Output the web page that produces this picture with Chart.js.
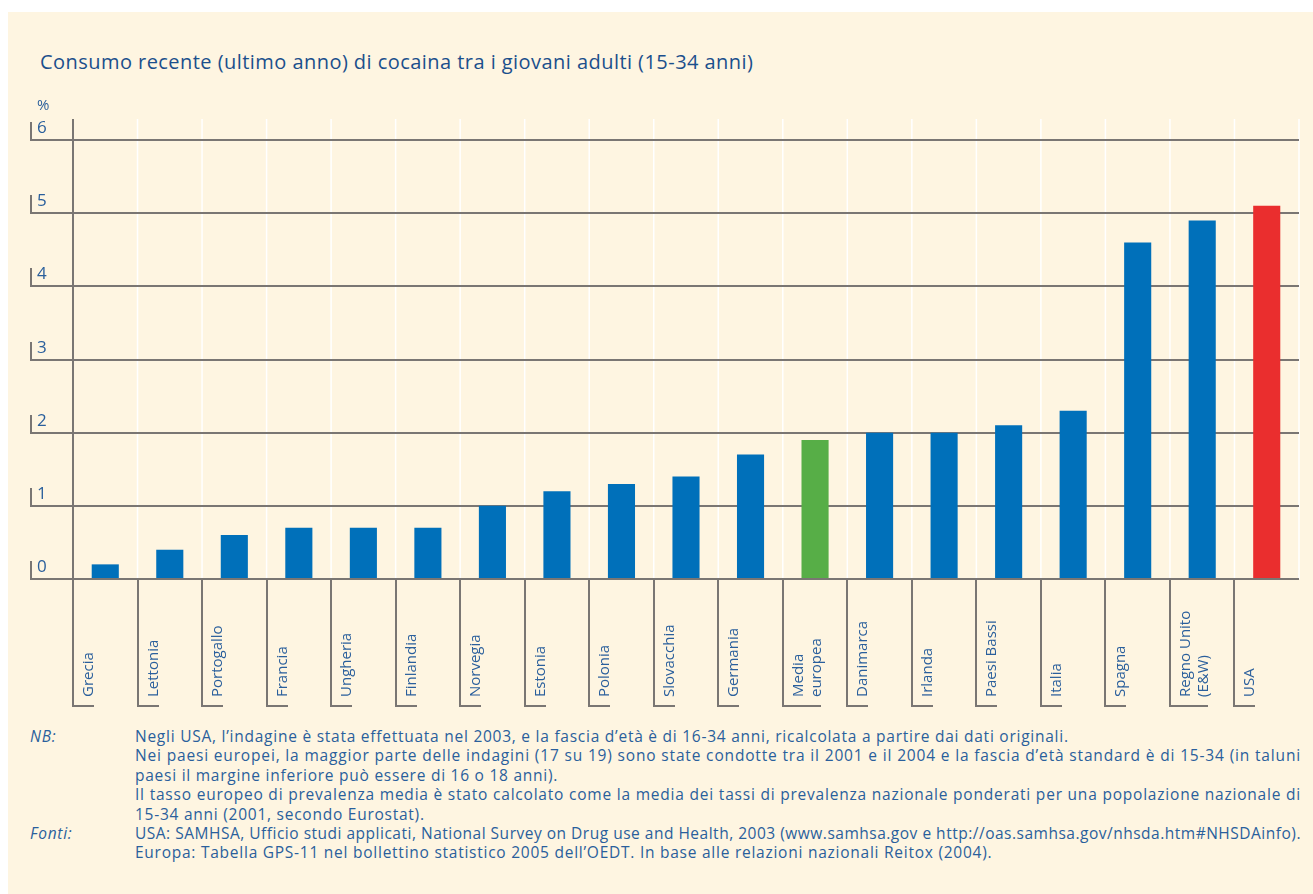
<!DOCTYPE html>
<html>
<head>
<meta charset="utf-8">
<script src="https://cdn.jsdelivr.net/npm/chart.js@4.4.1/dist/chart.umd.min.js"></script>
<style>
  body { margin: 0; background: #fff; width: 1313px; height: 894px; overflow: hidden; font-family: 'Open Sans', sans-serif; }
  .panel { position: absolute; left: 8px; top: 12px; width: 1305px; height: 882px; background: #fef5e1; }
  .title { position: absolute; left: 40px; top: 48px; font-size: 20px; letter-spacing: 0.45px; color: #1b4f8c; white-space: nowrap; }
  .wrap { position: absolute; left: 0; top: 0; width: 1313px; height: 720px; }
  .notes { position: absolute; left: 0; top: 727px; color: #2a5f9c; font-size: 15.5px; letter-spacing: 0.75px; line-height: 19.4px; }
  .row { position: relative; height: 19.4px; }
  .row .k { position: absolute; left: 30px; font-style: italic; }
  .row .t { position: absolute; left: 135px; white-space: nowrap; }
</style>
</head>
<body>
<div class="panel"></div>
<div class="title">Consumo recente (ultimo anno) di cocaina tra i giovani adulti (15-34 anni)</div>
<div class="wrap"><canvas id="c"></canvas></div>
<div class="notes">
  <div class="row"><span class="k">NB:</span><span class="t">Negli USA, l’indagine è stata effettuata nel 2003, e la fascia d’età è di 16-34 anni, ricalcolata a partire dai dati originali.</span></div>
  <div class="row"><span class="t j">Nei paesi europei, la maggior parte delle indagini (17 su 19) sono state condotte tra il 2001 e il 2004 e la fascia d’età standard è di 15-34 (in taluni</span></div>
  <div class="row"><span class="t">paesi il margine inferiore può essere di 16 o 18 anni).</span></div>
  <div class="row"><span class="t j">Il tasso europeo di prevalenza media è stato calcolato come la media dei tassi di prevalenza nazionale ponderati per una popolazione nazionale di</span></div>
  <div class="row"><span class="t">15-34 anni (2001, secondo Eurostat).</span></div>
  <div class="row"><span class="k">Fonti:</span><span class="t j">USA: SAMHSA, Ufficio studi applicati, National Survey on Drug use and Health, 2003 (www.samhsa.gov e http://oas.samhsa.gov/nhsda.htm#NHSDAinfo).</span></div>
  <div class="row"><span class="t">Europa: Tabella GPS-11 nel bollettino statistico 2005 dell’OEDT. In base alle relazioni nazionali Reitox (2004).</span></div>
</div>
<script>
const countries = ['Grecia', 'Lettonia', 'Portogallo', 'Francia', 'Ungheria', 'Finlandia', 'Norvegia', 'Estonia',
  'Polonia', 'Slovacchia', 'Germania', ['Media', 'europea'], 'Danimarca', 'Irlanda', 'Paesi Bassi', 'Italia',
  'Spagna', ['Regno Unito', '(E&W)'], 'USA'];
const prevalence = [0.2, 0.4, 0.6, 0.7, 0.7, 0.7, 1.0, 1.2, 1.3, 1.4, 1.7, 1.9, 2.0, 2.0, 2.1, 2.3, 4.6, 4.9, 5.1];
const yTicks = [0, 1, 2, 3, 4, 5, 6];

const BLUE = '#0070ba', GREEN = '#57ae47', RED = '#ea2e2e';
const GRID = '#7a7673', TXT = '#2a5f9c';

// full-width note lines: squeeze/stretch letter spacing so they end at the right margin
document.querySelectorAll('.t.j').forEach(el => {
    const target = 1166;
    const chars = el.textContent.length;
    const base = parseFloat(getComputedStyle(el).letterSpacing) || 0;
    el.style.letterSpacing = (base + (target - el.getBoundingClientRect().width) / chars) + 'px';
});

function barColour(label) {
    const name = Array.isArray(label) ? label.join(' ') : label;
    if (name === 'Media europea') return GREEN;
    if (name === 'USA') return RED;
    return BLUE;
}

const framePlugin = {
    id: 'frame',
    beforeDatasetsDraw(chart) {
        const {ctx, chartArea: {top, bottom, left, right}, scales: {x, y}} = chart;
        const step = x.getPixelForValue(1) - x.getPixelForValue(0);
        ctx.save();
        // white column separators inside the plot
        ctx.strokeStyle = '#ffffff';
        ctx.lineWidth = 1.5;
        for (let i = 1; i <= countries.length; i++) {
            const xb = x.getPixelForValue(i) - step / 2;
            ctx.beginPath();
            ctx.moveTo(xb, top - 21);
            ctx.lineTo(xb, bottom);
            ctx.stroke();
        }
        // horizontal grid, small tick marks and labels
        ctx.strokeStyle = GRID;
        ctx.lineWidth = 2;
        ctx.fillStyle = TXT;
        ctx.font = '17px "Open Sans"';
        ctx.textBaseline = 'alphabetic';
        yTicks.forEach(v => {
            const yy = Math.round(y.getPixelForValue(v));
            ctx.beginPath();
            ctx.moveTo(31, yy - 18);
            ctx.lineTo(31, yy);
            ctx.lineTo(right, yy);
            ctx.stroke();
            ctx.fillText(String(v), 37, yy - 7);
        });
        ctx.font = '15px "Open Sans"';
        ctx.fillText('%', 37, 110);
        ctx.restore();
    },
    afterDatasetsDraw(chart) {
        const {ctx, chartArea: {top, bottom, left}, scales: {x, y}} = chart;
        const step = x.getPixelForValue(1) - x.getPixelForValue(0);
        const zero = Math.round(y.getPixelForValue(0));
        ctx.save();
        ctx.strokeStyle = GRID;
        ctx.lineWidth = 2;
        ctx.beginPath();
        ctx.moveTo(31, zero);
        ctx.lineTo(chart.chartArea.right, zero);
        ctx.stroke();
        // vertical axis
        ctx.beginPath();
        ctx.moveTo(left, top - 21);
        ctx.lineTo(left, zero);
        ctx.stroke();
        // category brackets and labels below the axis
        ctx.font = '15px "Open Sans"';
        ctx.fillStyle = TXT;
        ctx.textAlign = 'left';
        ctx.textBaseline = 'alphabetic';
        const foot = 706;
        countries.forEach((label, i) => {
            const xb = Math.round(x.getPixelForValue(i) - step / 2);
            const lines = Array.isArray(label) ? label : [label];
            ctx.beginPath();
            ctx.moveTo(xb, zero);
            ctx.lineTo(xb, foot);
            ctx.lineTo(xb + 4 + lines.length * 17, foot);
            ctx.stroke();
            lines.forEach((line, j) => {
                ctx.save();
                ctx.translate(xb + 20 + j * 18, 697);
                ctx.rotate(-Math.PI / 2);
                ctx.fillText(line, 0, 0);
                ctx.restore();
            });
        });
        ctx.restore();
    }
};

new Chart(document.getElementById('c'), {
    type: 'bar',
    data: {
        labels: countries,
        datasets: [{
            data: prevalence,
            backgroundColor: countries.map(barColour),
            borderWidth: 0,
            barPercentage: 0.42,
            categoryPercentage: 1
        }]
    },
    options: {
        responsive: true,
        maintainAspectRatio: false,
        animation: false,
        layout: { padding: { left: 73, right: 14, top: 140, bottom: 141 } },
        plugins: { legend: { display: false }, tooltip: { enabled: false }, title: { display: false } },
        scales: {
            x: { display: false },
            y: { display: false, min: 0, max: 6 }
        }
    },
    plugins: [framePlugin]
});
</script>
</body>
</html>
